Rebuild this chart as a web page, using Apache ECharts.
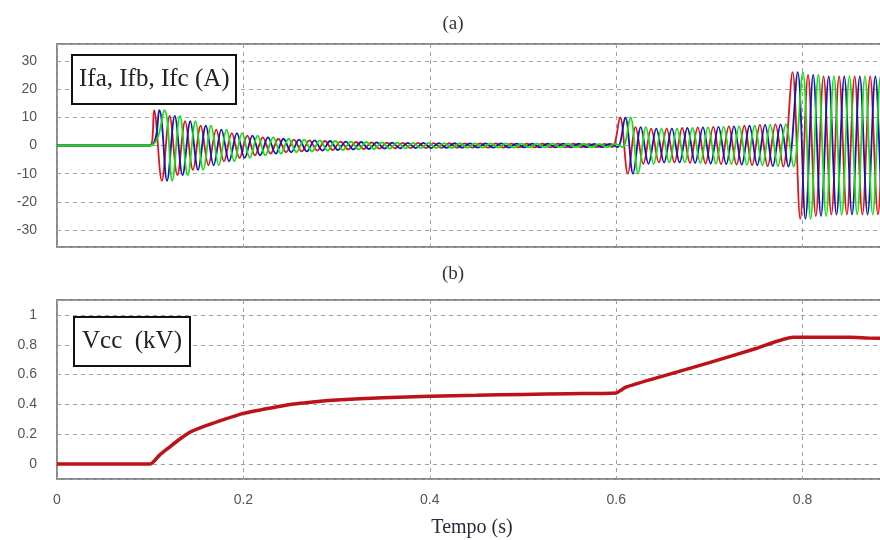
<!DOCTYPE html>
<html>
<head>
<meta charset="utf-8">
<script src="https://cdn.jsdelivr.net/npm/echarts@6/dist/echarts.min.js"></script>
<style>html,body{margin:0;padding:0;background:#fff}#c{width:880px;height:540px}</style>
</head>
<body>
<div id="c"></div>
<script>
// ---- data ----
const xTicks = [0, 0.2, 0.4, 0.6, 0.8];
const yTicksTop = [-30, -20, -10, 0, 10, 20, 30];
const yTicksBottom = [0, 0.2, 0.4, 0.6, 0.8, 1];

const gridFreq = 60; // Hz, cycles of the phase currents
const phaseNames = ['Ifa', 'Ifb', 'Ifc'];

// per-cycle peak amplitude (A) of the phase currents, segment 1: 0.1 s -> 0.6 s (decaying)
const envStart = 0.1;
const envDecay = [12.5, 10.5, 8.6, 7.0, 5.6, 4.4, 3.5, 2.9, 2.4, 2.1, 1.8, 1.6, 1.4, 1.25, 1.1,
                  1.0, 0.95, 0.9, 0.85, 0.8, 0.78, 0.75, 0.72, 0.7, 0.68, 0.66, 0.64, 0.62, 0.6, 0.6];
// segment 2: 0.6 s -> 0.785 s
const envMidStart = 0.6;
const envMid = [10, 6.5, 6.0, 6.0, 6.2, 6.4, 6.6, 6.8, 7.0, 7.3, 7.5];
// segment 3: 0.785 s -> end
const envHighStart = 0.785;
const envHigh = [26, 25, 24.5, 24.5, 24.5, 24.5, 24.5];

// DC-link voltage Vcc (kV)
const vccTime = [0, 0.1, 0.11, 0.12, 0.13, 0.143, 0.15, 0.17, 0.2, 0.22, 0.25, 0.28, 0.3, 0.35, 0.4, 0.45, 0.5, 0.55, 0.6,
                 0.605, 0.61, 0.65, 0.7, 0.75, 0.79, 0.8, 0.85, 0.87, 0.9];
const vccValue = [0, 0, 0.06, 0.11, 0.16, 0.215, 0.235, 0.28, 0.34, 0.365, 0.40, 0.42, 0.43, 0.445, 0.455, 0.461, 0.467, 0.472, 0.477,
                  0.495, 0.515, 0.59, 0.68, 0.775, 0.85, 0.85, 0.85, 0.845, 0.84];

// ---- build series ----
const T = 1 / gridFreq;
function phaseData(p) {
  const pts = [[0, 0], [envStart, 0]];
  const segs = [[envStart, envDecay], [envMidStart, envMid], [envHighStart, envHigh]];
  segs.forEach(([s, env]) => {
    env.forEach((A, k) => {
      const tp = s + k * T + p * T / 3 + T / 4;
      pts.push([tp, A]);
      pts.push([tp + T / 2, -A]);
    });
  });
  return pts;
}
const phaseColors = ['#e0141e', '#1616b4', '#12e012'];
const vccData = vccTime.map((t, i) => [t, vccValue[i]]);

const chart = echarts.init(document.getElementById('c'), null, {renderer: 'canvas'});
const splitStyle = {show: true, lineStyle: {color: '#a0a0a0', type: [4, 4], width: 1}};
const labelStyle = {color: '#555', fontSize: 14, fontFamily: 'Liberation Sans, Arial, sans-serif'};
const serif = 'Liberation Serif, Times New Roman, serif';

chart.setOption({
  animation: false,
  backgroundColor: '#fff',
  title: [
    {text: '(a)', left: 448, top: 10, textAlign: 'center',
     textStyle: {fontFamily: serif, fontSize: 19, fontWeight: 'normal', color: '#333'}},
    {text: '(b)', left: 448, top: 260, textAlign: 'center',
     textStyle: {fontFamily: serif, fontSize: 19, fontWeight: 'normal', color: '#333'}},
    {text: 'Tempo (s)', left: 467, top: 513, textAlign: 'center',
     textStyle: {fontFamily: serif, fontSize: 20, fontWeight: 'normal', color: '#2a2a3a'}},
    {text: 'Ifa, Ifb, Ifc (A)', left: 72, top: 55, padding: [10, 7, 10, 7],
     borderColor: '#111', borderWidth: 2, backgroundColor: '#fff',
     textStyle: {fontFamily: serif, fontSize: 25, lineHeight: 29, fontWeight: 'normal', color: '#222'}},
    {text: 'Vcc  (kV)', left: 74, top: 317, padding: [10, 8, 10, 8],
     borderColor: '#111', borderWidth: 2, backgroundColor: '#fff',
     textStyle: {fontFamily: serif, fontSize: 25, lineHeight: 29, fontWeight: 'normal', color: '#222'}}
  ],
  grid: [
    {left: 57, top: 44, height: 203, right: -109, outerBoundsMode: 'none', containLabel: false,
     show: true, borderColor: '#8a8a8a', borderWidth: 2, backgroundColor: '#fff'},
    {left: 57, top: 300, height: 179, right: -109, outerBoundsMode: 'none', containLabel: false,
     show: true, borderColor: '#8a8a8a', borderWidth: 2, backgroundColor: '#fff'}
  ],
  xAxis: [
    {type: 'value', gridIndex: 0, min: 0, max: 1, interval: 0.2,
     axisLine: {show: false}, axisTick: {show: false}, axisLabel: {show: false}, splitLine: splitStyle},
    {type: 'value', gridIndex: 1, min: 0, max: 1, interval: 0.2,
     axisLine: {show: false}, axisTick: {show: false},
     axisLabel: Object.assign({margin: 14, formatter: v => xTicks.includes(+v.toFixed(2)) ? String(+v.toFixed(2)) : ''}, labelStyle),
     splitLine: splitStyle}
  ],
  yAxis: [
    {type: 'value', gridIndex: 0, min: -36, max: 36, splitNumber: 7,
     axisLine: {show: false}, axisTick: {show: false},
     axisLabel: Object.assign({margin: 20, showMinLabel: false, showMaxLabel: false,
       formatter: v => yTicksTop.includes(v) ? String(v) : ''}, labelStyle),
     splitLine: splitStyle},
    {type: 'value', gridIndex: 1, min: -0.1, max: 1.1, splitNumber: 6,
     axisLine: {show: false}, axisTick: {show: false},
     axisLabel: Object.assign({margin: 20, showMinLabel: false, showMaxLabel: false,
       formatter: v => yTicksBottom.includes(+v.toFixed(2)) ? String(+v.toFixed(2)) : ''}, labelStyle),
     splitLine: splitStyle}
  ],
  series: [
    ...phaseNames.map((n, p) => ({
      name: n, type: 'line', xAxisIndex: 0, yAxisIndex: 0, data: phaseData(p),
      showSymbol: false, symbol: 'none', sampling: false, smooth: 0.35, z: 2 + p,
      lineStyle: {color: phaseColors[p], width: 1.8}
    })),
    {name: 'Vcc', type: 'line', xAxisIndex: 1, yAxisIndex: 1, data: vccData,
     showSymbol: false, symbol: 'none', smooth: 0.2, z: 3,
     lineStyle: {color: '#bd1219', width: 3.5}}
  ]
});
</script>
</body>
</html>
